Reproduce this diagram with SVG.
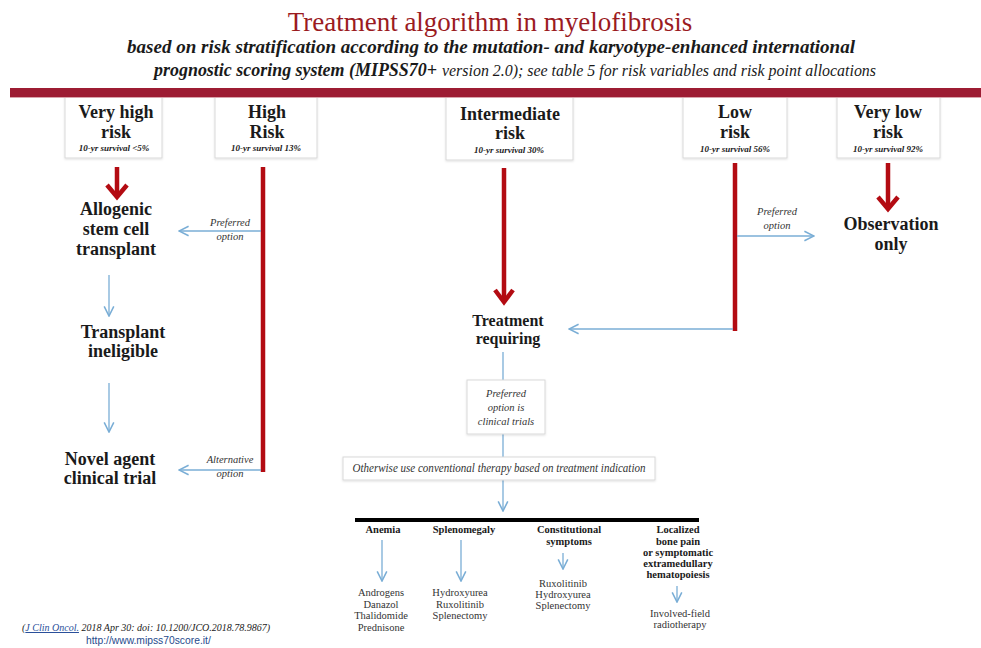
<svg xmlns="http://www.w3.org/2000/svg" width="981" height="648" viewBox="0 0 981 648">
<defs>
<style>
.t{font-family:"Liberation Serif",serif;fill:#1a1a1a}
.title{font-size:27px;fill:#9b1b1f;text-anchor:middle}
.sub{font-size:18px;font-weight:bold;font-style:italic}
.subr{font-size:16px;font-style:italic}
.hdr{font-size:18px;font-weight:bold;text-anchor:middle}
.surv{font-size:9px;font-weight:bold;font-style:italic;text-anchor:middle}
.node{font-size:18px;font-weight:bold;text-anchor:middle}
.node2{font-size:16px;font-weight:bold;text-anchor:middle}
.lbl{font-size:10.5px;font-style:italic;text-anchor:middle;fill:#333}
.box{fill:#fff;stroke:#d9d9d9;stroke-width:1}
.cat{font-size:10.5px;font-weight:bold;text-anchor:middle}
.drug{font-size:10.5px;text-anchor:middle;fill:#333}
.red{stroke:#b30b12;stroke-width:4.5;fill:none}
.blue{stroke:#7aaed6;stroke-width:1.3;fill:none}
</style>
<marker id="bh" markerUnits="userSpaceOnUse" markerWidth="12" markerHeight="12" refX="9" refY="5" orient="auto" viewBox="0 0 10 10">
<path d="M1,1 L9,5 L1,9" fill="none" stroke="#7aaed6" stroke-width="1.3"/>
</marker>
<filter id="sh" x="-10%" y="-10%" width="120%" height="130%">
<feDropShadow dx="0" dy="1" stdDeviation="1" flood-color="#000" flood-opacity="0.12"/>
</filter>
</defs>
<rect width="981" height="648" fill="#fff"/>
<g font-family="Liberation Serif, serif">

<g id="title">
<text class="t title" x="490" y="31">Treatment algorithm in myelofibrosis</text>
<text class="t sub" x="127" y="53" textLength="728" lengthAdjust="spacingAndGlyphs">based on risk stratification according to the mutation- and karyotype-enhanced international</text>
<text class="t sub" x="154" y="76" textLength="283" lengthAdjust="spacingAndGlyphs">prognostic scoring system (MIPSS70+</text>
<text class="t subr" x="442" y="76" textLength="434" lengthAdjust="spacingAndGlyphs">version 2.0); see table 5 for risk variables and risk point allocations</text>
</g>

<g id="boxes">
<g id="veryhigh">
<rect class="box" filter="url(#sh)" x="65" y="92" width="97" height="66"/>
<text class="t hdr" x="116" y="118">Very high</text>
<text class="t hdr" x="116" y="138">risk</text>
<text class="t surv" x="114" y="151">10-yr survival &lt;5%</text>
</g>
<g id="high">
<rect class="box" filter="url(#sh)" x="215" y="92" width="102" height="66"/>
<text class="t hdr" x="267" y="118">High</text>
<text class="t hdr" x="267" y="138">Risk</text>
<text class="t surv" x="266" y="151">10-yr survival 13%</text>
</g>
<g id="intermediate">
<rect class="box" filter="url(#sh)" x="446" y="92" width="127" height="68"/>
<text class="t hdr" x="510" y="120">Intermediate</text>
<text class="t hdr" x="510" y="139">risk</text>
<text class="t surv" x="509" y="153">10-yr survival 30%</text>
</g>
<g id="low">
<rect class="box" filter="url(#sh)" x="683" y="92" width="104" height="66"/>
<text class="t hdr" x="735" y="118">Low</text>
<text class="t hdr" x="735" y="138">risk</text>
<text class="t surv" x="735" y="152">10-yr survival 56%</text>
</g>
<g id="verylow">
<rect class="box" filter="url(#sh)" x="837" y="92" width="103" height="66"/>
<text class="t hdr" x="888" y="118">Very low</text>
<text class="t hdr" x="888" y="138">risk</text>
<text class="t surv" x="888" y="152">10-yr survival 92%</text>
</g>
</g>

<g id="bar">
<rect x="10" y="88" width="971" height="9" fill="#9d1c33"/>
<rect x="10" y="97" width="971" height="1" fill="#d9a3ab"/>
</g>

<g id="connectors">
<line class="red" x1="117" y1="167" x2="117" y2="196"/>
<path class="red" d="M107,185 L117,197 L127,185"/>
<line class="red" x1="263" y1="167" x2="263" y2="472"/>
<line class="blue" x1="261" y1="231" x2="179" y2="231" marker-end="url(#bh)"/>
<line class="blue" x1="261" y1="470" x2="179" y2="470" marker-end="url(#bh)"/>
<line class="blue" x1="109" y1="275" x2="109" y2="316" marker-end="url(#bh)"/>
<line class="blue" x1="109" y1="383" x2="109" y2="432" marker-end="url(#bh)"/>
<line class="red" x1="504" y1="168" x2="504" y2="301"/>
<path class="red" d="M495,290 L504,302 L513,290"/>
<line class="red" x1="735" y1="163" x2="735" y2="331"/>
<line class="blue" x1="733" y1="329" x2="569" y2="329" marker-end="url(#bh)"/>
<line class="blue" x1="737" y1="236" x2="814" y2="236" marker-end="url(#bh)"/>
<line class="red" x1="888" y1="163" x2="888" y2="208"/>
<path class="red" d="M878,197 L888,209 L898,197"/>
<line class="blue" x1="503" y1="352" x2="503" y2="380"/>
<line class="blue" x1="503" y1="434" x2="503" y2="457"/>
<line class="blue" x1="503" y1="480" x2="503" y2="511" marker-end="url(#bh)"/>
<line x1="355" y1="520" x2="699" y2="520" stroke="#000" stroke-width="4"/>
<line class="blue" x1="382" y1="540" x2="382" y2="581" marker-end="url(#bh)"/>
<line class="blue" x1="461" y1="540" x2="461" y2="581" marker-end="url(#bh)"/>
<line class="blue" x1="563" y1="553" x2="563" y2="569" marker-end="url(#bh)"/>
<line class="blue" x1="677" y1="586" x2="677" y2="602" marker-end="url(#bh)"/>
</g>

<g id="labels">
<text class="t lbl" x="230" y="226">Preferred</text>
<text class="t lbl" x="230" y="240">option</text>
<text class="t lbl" x="230" y="463">Alternative</text>
<text class="t lbl" x="230" y="477">option</text>
<text class="t lbl" x="777" y="215">Preferred</text>
<text class="t lbl" x="777" y="229">option</text>
</g>

<g id="allogenic">
<text class="t node" x="116" y="215">Allogenic</text>
<text class="t node" x="116" y="235">stem cell</text>
<text class="t node" x="116" y="255">transplant</text>
</g>
<g id="ineligible">
<text class="t node" x="123" y="338">Transplant</text>
<text class="t node" x="123" y="357">ineligible</text>
</g>
<g id="novel">
<text class="t node" x="110" y="465">Novel agent</text>
<text class="t node" x="110" y="484">clinical trial</text>
</g>
<g id="observation">
<text class="t node" x="891" y="230">Observation</text>
<text class="t node" x="891" y="250">only</text>
</g>
<g id="treatment">
<text class="t node2" x="508" y="326">Treatment</text>
<text class="t node2" x="508" y="344">requiring</text>
</g>
<g id="preferredtrials">
<rect class="box" filter="url(#sh)" x="467" y="380" width="78" height="54"/>
<text class="t lbl" x="506" y="397" font-size="11">Preferred</text>
<text class="t lbl" x="506" y="411" font-size="11">option is</text>
<text class="t lbl" x="506" y="425" font-size="11">clinical trials</text>
</g>
<g id="otherwise">
<rect class="box" filter="url(#sh)" x="343" y="457" width="312" height="23"/>
<text class="t lbl" x="499" y="472" style="font-size:11.5px" textLength="293" lengthAdjust="spacingAndGlyphs">Otherwise use conventional therapy based on treatment indication</text>
</g>

<g id="anemia">
<text class="t cat" x="383" y="533">Anemia</text>
<text class="t drug" x="381" y="596">Androgens</text>
<text class="t drug" x="381" y="608">Danazol</text>
<text class="t drug" x="381" y="619">Thalidomide</text>
<text class="t drug" x="381" y="631">Prednisone</text>
</g>
<g id="splenomegaly">
<text class="t cat" x="464" y="533">Splenomegaly</text>
<text class="t drug" x="460" y="596">Hydroxyurea</text>
<text class="t drug" x="460" y="608">Ruxolitinib</text>
<text class="t drug" x="460" y="619">Splenectomy</text>
</g>
<g id="constitutional">
<text class="t cat" x="569" y="533">Constitutional</text>
<text class="t cat" x="569" y="545">symptoms</text>
<text class="t drug" x="563" y="587">Ruxolitinib</text>
<text class="t drug" x="563" y="598">Hydroxyurea</text>
<text class="t drug" x="563" y="609">Splenectomy</text>
</g>
<g id="localized">
<text class="t cat" x="678" y="533">Localized</text>
<text class="t cat" x="678" y="545">bone pain</text>
<text class="t cat" x="678" y="556">or symptomatic</text>
<text class="t cat" x="678" y="567">extramedullary</text>
<text class="t cat" x="678" y="578">hematopoiesis</text>
<text class="t drug" x="680" y="617">Involved-field</text>
<text class="t drug" x="680" y="628">radiotherapy</text>
</g>

<g id="footer">
<text class="t" x="22" y="631" font-size="10" font-style="italic" fill="#333">(<tspan fill="#2a4f9a" text-decoration="underline">J Clin Oncol.</tspan> 2018 Apr 30: doi: 10.1200/JCO.2018.78.9867)</text>
<text x="86" y="644" font-family="'Liberation Sans',sans-serif" font-size="10.3" fill="#1f4a8c">http://www.mipss70score.it/</text>
</g>
</g>
</svg>
